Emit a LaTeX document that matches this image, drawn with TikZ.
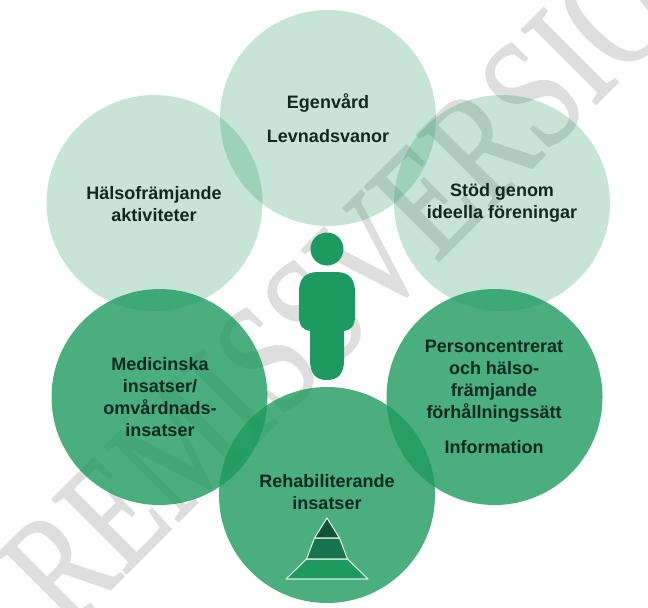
\documentclass[tikz,border=0pt]{standalone}
\usepackage{fontspec}
\setmainfont{Liberation Sans}
\newfontfamily\wmfont[FakeBold=1.2]{Liberation Serif}
\definecolor{basegreen}{HTML}{1D9A5F}
\definecolor{midgreen}{HTML}{16744A}
\definecolor{deepgreen}{HTML}{0F5436}
\definecolor{txt}{HTML}{0E2A1F}
\definecolor{wm}{HTML}{DEDEDE}
\tikzset{
  lightc/.style={circle,minimum size=162pt,inner sep=0pt,fill=basegreen,fill opacity=.25},
  darkc/.style={circle,minimum size=162pt,inner sep=0pt,fill=basegreen,fill opacity=.8},
  lbl/.style={align=center,text=txt,font=\fontsize{13.5}{16.4}\selectfont\bfseries},
  pyr/.style={draw=white!85!basegreen,line width=.8pt,line join=round}
}
\begin{document}
\begin{tikzpicture}[x=.75pt,y=-.75pt]
\useasboundingbox (0,0) rectangle (648,607);
\fill[white] (0,0) rectangle (648,607);
\begin{scope}
\clip (0,0) rectangle (648,607);
\node[rotate=45,anchor=base west,text=wm,font=\wmfont\fontsize{120}{120}\selectfont,inner sep=0pt] (wmk) at (67,633) {\scalebox{.753}[1]{REMISSVERSION}};
\end{scope}
\node[lightc] (c1) at (328,118) {};
\node[lightc] (c2) at (154.5,203) {};
\node[lightc] (c3) at (502,203) {};
\node[darkc] (c4) at (159.5,397) {};
\node[darkc] (c5) at (494.5,397) {};
\node[darkc] (c6) at (327,495) {};
\node[lbl] (t1) at (328,103) {Egenvård};
\node[lbl] (t1b) at (328,136) {Levnadsvanor};
\node[lbl] (t2) at (154,204) {Hälsofrämjande\\aktiviteter};
\node[lbl] (t3) at (502,203) {Stöd genom\\ideella föreningar};
\node[lbl] (t4) at (160,397) {Medicinska\\insatser/\\omvårdnads-\\insatser};
\node[lbl] (t5) at (494,381) {Personcentrerat\\och hälso-\\främjande\\förhållningssätt};
\node[lbl] (t5b) at (494,447) {Information};
\node[lbl] (t6) at (327,492) {Rehabiliterande\\insatser};
\fill[basegreen] (327,249) circle[radius=16.5];
\fill[basegreen]
  (318,272) -- (336,272) .. controls (350,272) and (355,280) .. (355,292)
  -- (355,316) .. controls (355,326) and (351,330) .. (344,331)
  -- (344,360) .. controls (344,374) and (338,380) .. (327,380)
  .. controls (316,380) and (310,374) .. (310,360)
  -- (310,331) .. controls (303,330) and (299,326) .. (299,316)
  -- (299,292) .. controls (299,280) and (304,272) .. (318,272) -- cycle;
\draw[pyr,fill=basegreen] (306.5,559) -- (347.5,559) -- (368,579) -- (286,579) -- cycle;
\draw[pyr,fill=midgreen] (314.5,538) -- (339.5,538) -- (347.5,559) -- (306.5,559) -- cycle;
\draw[pyr,fill=deepgreen] (327,518) -- (339.5,538) -- (314.5,538) -- cycle;
\end{tikzpicture}
\end{document}
